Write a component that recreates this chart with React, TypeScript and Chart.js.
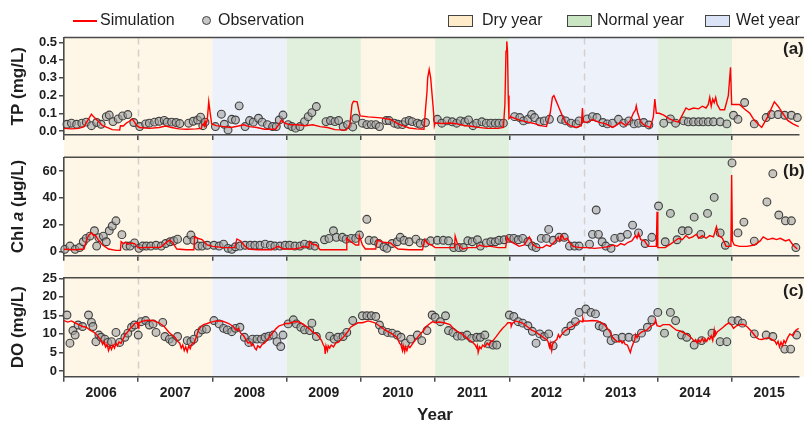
import React, { useEffect, useRef } from 'react';
import { Chart, registerables } from 'chart.js';

Chart.register(...registerables);

// ---------------- DATA ----------------
const YEARS = [2006, 2007, 2008, 2009, 2010, 2011, 2012, 2013, 2014, 2015];
const YEAR_TYPES = ['Dry', 'Dry', 'Wet', 'Normal', 'Dry', 'Normal', 'Wet', 'Wet', 'Normal', 'Dry'];
const LEGEND_TYPES = ['Dry', 'Normal', 'Wet'];
const X_MIN = 2006;
const X_MAX = 2015.901;

const TP_TICKS = [0, 0.1, 0.2, 0.3, 0.4, 0.5];
const CHL_TICKS = [0, 20, 40, 60];
const DO_TICKS = [0, 5, 10, 15, 20, 25];

// Simulation (TP, mg/L)
const simTP: number[][] = [
  [2006.0, 0.015], [2006.1, 0.012], [2006.2, 0.015], [2006.27, 0.025], [2006.32, 0.06], [2006.37, 0.095], [2006.4, 0.08], [2006.45, 0.06], [2006.52, 0.03], [2006.58, 0.02], [2006.65, 0.008], [2006.75, 0.005], [2006.76, 0.03], [2006.8, 0.028], [2006.84, 0.045], [2006.88, 0.055], [2006.92, 0.068], [2006.95, 0.05], [2006.98, 0.03],
  [2007.02, 0.02], [2007.15, 0.015], [2007.28, 0.02], [2007.37, 0.028], [2007.45, 0.02], [2007.55, 0.012], [2007.65, 0.01], [2007.78, 0.012], [2007.85, 0.015], [2007.86, 0.035], [2007.88, 0.04], [2007.89, 0.03], [2007.9, 0.055], [2007.91, 0.04], [2007.93, 0.06], [2007.95, 0.166], [2007.97, 0.1], [2007.99, 0.04],
  [2008.05, 0.03], [2008.15, 0.025], [2008.25, 0.02], [2008.35, 0.028], [2008.42, 0.035], [2008.5, 0.025], [2008.6, 0.02], [2008.7, 0.01], [2008.85, 0.01], [2008.9, 0.04], [2008.93, 0.062], [2008.97, 0.045],
  [2009.05, 0.035], [2009.15, 0.035], [2009.25, 0.03], [2009.35, 0.035], [2009.45, 0.025], [2009.55, 0.02], [2009.65, 0.008], [2009.8, 0.005], [2009.85, 0.03], [2009.88, 0.15], [2009.9, 0.168], [2009.95, 0.165], [2009.97, 0.12], [2009.99, 0.085],
  [2010.1, 0.08], [2010.27, 0.074], [2010.4, 0.065], [2010.5, 0.04], [2010.6, 0.025], [2010.65, 0.017], [2010.75, 0.012], [2010.85, 0.01], [2010.87, 0.12], [2010.89, 0.22], [2010.9, 0.3], [2010.92, 0.347], [2010.94, 0.3], [2010.96, 0.2], [2010.98, 0.1], [2010.99, 0.03],
  [2011.0, 0.045], [2011.1, 0.042], [2011.2, 0.045], [2011.3, 0.04], [2011.4, 0.03], [2011.47, 0.028], [2011.55, 0.022], [2011.7, 0.015], [2011.85, 0.015], [2011.92, 0.02], [2011.94, 0.15], [2011.955, 0.45], [2011.965, 0.506], [2011.975, 0.45], [2011.985, 0.2], [2011.995, 0.07],
  [2012.02, 0.08], [2012.08, 0.07], [2012.15, 0.06], [2012.25, 0.05], [2012.32, 0.044], [2012.42, 0.03], [2012.5, 0.025], [2012.55, 0.1], [2012.58, 0.19], [2012.6, 0.2], [2012.63, 0.17], [2012.67, 0.13], [2012.72, 0.08], [2012.76, 0.047], [2012.82, 0.03], [2012.9, 0.02], [2012.97, 0.03], [2012.985, 0.13], [2012.995, 0.05],
  [2013.05, 0.05], [2013.12, 0.065], [2013.2, 0.05], [2013.3, 0.04], [2013.39, 0.02], [2013.45, 0.035], [2013.5, 0.05], [2013.57, 0.03], [2013.63, 0.06], [2013.67, 0.1], [2013.7, 0.12], [2013.71, 0.142], [2013.73, 0.1], [2013.77, 0.05], [2013.83, 0.03], [2013.9, 0.02], [2013.94, 0.08], [2013.96, 0.18], [2013.98, 0.1],
  [2014.02, 0.1], [2014.08, 0.09], [2014.15, 0.07], [2014.22, 0.057], [2014.28, 0.05], [2014.33, 0.09], [2014.38, 0.13], [2014.42, 0.12], [2014.48, 0.13], [2014.55, 0.125], [2014.6, 0.14], [2014.65, 0.13], [2014.68, 0.15], [2014.7, 0.19], [2014.72, 0.14], [2014.74, 0.18], [2014.76, 0.16], [2014.78, 0.19], [2014.8, 0.15], [2014.84, 0.12], [2014.9, 0.12], [2014.95, 0.2], [2014.98, 0.36], [2014.995, 0.15],
  [2015.02, 0.15], [2015.1, 0.15], [2015.18, 0.12], [2015.24, 0.1], [2015.3, 0.06], [2015.4, 0.02], [2015.48, 0.08], [2015.57, 0.165], [2015.62, 0.14], [2015.7, 0.09], [2015.75, 0.06], [2015.82, 0.04], [2015.9, 0.025],
];

// Observation (TP, mg/L)
const obsTP: number[][] = [
  [2006.04, 0.038], [2006.10, 0.044], [2006.17, 0.038], [2006.24, 0.044], [2006.30, 0.05], [2006.37, 0.03], [2006.44, 0.048], [2006.50, 0.038], [2006.57, 0.081], [2006.61, 0.09], [2006.66, 0.053], [2006.73, 0.068], [2006.79, 0.085], [2006.86, 0.093], [2006.94, 0.048],
  [2007.02, 0.025], [2007.10, 0.04], [2007.15, 0.044], [2007.22, 0.05], [2007.28, 0.055], [2007.35, 0.06], [2007.39, 0.05], [2007.45, 0.05], [2007.51, 0.048], [2007.56, 0.042], [2007.68, 0.044], [2007.74, 0.055], [2007.80, 0.062], [2007.84, 0.078], [2007.87, 0.03], [2007.90, 0.05],
  [2008.04, 0.025], [2008.12, 0.095], [2008.16, 0.038], [2008.21, 0.006], [2008.26, 0.066], [2008.31, 0.062], [2008.36, 0.142], [2008.44, 0.025], [2008.50, 0.059], [2008.55, 0.05], [2008.62, 0.072], [2008.67, 0.05], [2008.74, 0.036], [2008.81, 0.025], [2008.86, 0.025], [2008.90, 0.062], [2008.95, 0.09],
  [2009.02, 0.036], [2009.07, 0.025], [2009.12, 0.016], [2009.18, 0.025], [2009.24, 0.053], [2009.29, 0.081], [2009.34, 0.104], [2009.40, 0.138], [2009.53, 0.053], [2009.59, 0.059], [2009.65, 0.053], [2009.70, 0.059], [2009.76, 0.025], [2009.82, 0.036], [2009.89, 0.023], [2009.93, 0.072],
  [2010.02, 0.044], [2010.08, 0.036], [2010.14, 0.036], [2010.20, 0.036], [2010.25, 0.025], [2010.34, 0.059], [2010.38, 0.059], [2010.45, 0.044], [2010.50, 0.038], [2010.56, 0.036], [2010.60, 0.053], [2010.65, 0.059], [2010.69, 0.053], [2010.76, 0.044], [2010.80, 0.038], [2010.87, 0.048],
  [2011.03, 0.066], [2011.09, 0.044], [2011.16, 0.057], [2011.23, 0.052], [2011.29, 0.044], [2011.34, 0.057], [2011.40, 0.052], [2011.45, 0.063], [2011.51, 0.03], [2011.56, 0.044], [2011.63, 0.052], [2011.69, 0.044], [2011.75, 0.044], [2011.81, 0.044], [2011.86, 0.044], [2011.92, 0.044],
  [2012.07, 0.081], [2012.14, 0.076], [2012.19, 0.057], [2012.25, 0.066], [2012.30, 0.093], [2012.34, 0.076], [2012.41, 0.052], [2012.47, 0.057], [2012.54, 0.066], [2012.70, 0.066], [2012.76, 0.057], [2012.83, 0.044], [2012.90, 0.04], [2012.94, 0.057],
  [2013.05, 0.068], [2013.12, 0.081], [2013.18, 0.076], [2013.26, 0.048], [2013.32, 0.04], [2013.39, 0.044], [2013.47, 0.066], [2013.54, 0.044], [2013.61, 0.057], [2013.68, 0.04], [2013.74, 0.044], [2013.81, 0.048], [2013.88, 0.034],
  [2014.08, 0.044], [2014.17, 0.068], [2014.24, 0.044], [2014.35, 0.057], [2014.41, 0.052], [2014.48, 0.052], [2014.55, 0.052], [2014.61, 0.052], [2014.68, 0.052], [2014.75, 0.052], [2014.84, 0.052], [2014.93, 0.04],
  [2015.02, 0.089], [2015.08, 0.066], [2015.17, 0.161], [2015.30, 0.04], [2015.46, 0.076], [2015.53, 0.093], [2015.62, 0.093], [2015.71, 0.089], [2015.80, 0.089], [2015.88, 0.076],
];

// Simulation (Chl a, ug/L)
const simChl: number[][] = [
  [2006.0, 1.8], [2006.15, 1.5], [2006.27, 2], [2006.3, 8], [2006.33, 12], [2006.37, 14], [2006.4, 12], [2006.42, 12.5], [2006.46, 9], [2006.52, 5], [2006.6, 2], [2006.7, 1], [2006.76, 1], [2006.77, 7.4], [2006.8, 6], [2006.83, 7], [2006.86, 5.5], [2006.9, 6.5], [2006.95, 6],
  [2007.0, 3], [2007.15, 3.2], [2007.3, 3.3], [2007.36, 6], [2007.42, 8.7], [2007.46, 7], [2007.52, 2], [2007.65, 1.5], [2007.75, 1.5], [2007.76, 11], [2007.8, 10], [2007.86, 9], [2007.93, 5],
  [2008.0, 4], [2008.15, 3], [2008.3, 3], [2008.33, 9.5], [2008.38, 8], [2008.44, 4], [2008.48, 2], [2008.6, 1.5], [2008.8, 1.5], [2008.85, 3], [2008.89, 4], [2008.95, 2],
  [2009.1, 2], [2009.2, 3], [2009.22, 4], [2009.3, 3], [2009.31, 7.4], [2009.35, 5.5], [2009.4, 5], [2009.45, 1.5], [2009.6, 1.5], [2009.8, 1.5], [2009.81, 10], [2009.85, 8], [2009.93, 5], [2009.97, 5], [2009.98, 12],
  [2010.02, 5], [2010.06, 2], [2010.2, 2], [2010.22, 8.7], [2010.3, 7], [2010.4, 6.5], [2010.45, 4], [2010.5, 2], [2010.65, 1.5], [2010.83, 1.5], [2010.86, 9], [2010.9, 6], [2010.95, 5],
  [2011.0, 3], [2011.15, 3], [2011.26, 3], [2011.27, 11.7], [2011.3, 6], [2011.37, 2], [2011.45, 3], [2011.55, 3], [2011.6, 5], [2011.65, 4], [2011.75, 4], [2011.85, 3], [2011.95, 3], [2011.97, 11],
  [2012.0, 8], [2012.1, 5], [2012.13, 4], [2012.2, 5], [2012.27, 11], [2012.32, 5], [2012.38, 3], [2012.45, 3], [2012.5, 5], [2012.55, 4], [2012.62, 8], [2012.66, 11], [2012.68, 8], [2012.71, 12.4], [2012.74, 9], [2012.78, 10], [2012.82, 6], [2012.86, 4], [2012.95, 3],
  [2013.05, 3], [2013.15, 2.5], [2013.25, 3], [2013.35, 4], [2013.4, 5], [2013.45, 4], [2013.5, 6], [2013.55, 5], [2013.6, 7], [2013.65, 8], [2013.7, 12], [2013.72, 10], [2013.74, 13.7], [2013.77, 9], [2013.82, 8], [2013.87, 4], [2013.98, 4], [2013.99, 29.7],
  [2014.0, 3], [2014.1, 3], [2014.18, 6], [2014.23, 8], [2014.28, 10], [2014.33, 9], [2014.38, 12], [2014.42, 10], [2014.47, 11], [2014.52, 13], [2014.55, 10], [2014.6, 12], [2014.65, 10], [2014.7, 12], [2014.75, 11], [2014.79, 18.6], [2014.82, 12], [2014.87, 10], [2014.92, 4], [2014.985, 4], [2014.995, 57],
  [2015.005, 8], [2015.03, 5], [2015.1, 4], [2015.2, 4], [2015.3, 5], [2015.38, 8], [2015.42, 11], [2015.48, 9], [2015.55, 10], [2015.6, 9], [2015.65, 10], [2015.72, 8], [2015.77, 9], [2015.82, 5], [2015.88, 2],
];

// Observation (Chl a, ug/L)
const obsChl: number[][] = [
  [2006.01, 1.8], [2006.08, 4.2], [2006.15, 1.8], [2006.21, 3.1], [2006.26, 7.4], [2006.30, 9.9], [2006.35, 11.6], [2006.41, 15.6], [2006.44, 4.2], [2006.47, 10.4], [2006.53, 11.6], [2006.57, 7.4], [2006.61, 15.6], [2006.65, 19.1], [2006.70, 23], [2006.78, 12.7], [2006.84, 4.2], [2006.89, 4.2], [2006.95, 6.5],
  [2007.01, 2.5], [2007.06, 4.2], [2007.11, 4.2], [2007.17, 4.2], [2007.24, 4.8], [2007.31, 4.2], [2007.37, 6.1], [2007.43, 7.4], [2007.48, 8.1], [2007.53, 9.3], [2007.66, 8.5], [2007.71, 12.4], [2007.75, 8.5], [2007.81, 4.2], [2007.86, 4.2], [2007.93, 4.8],
  [2008.02, 4.8], [2008.09, 4.2], [2008.15, 5.6], [2008.21, 2.5], [2008.26, 1.8], [2008.31, 3.7], [2008.37, 4.2], [2008.44, 4.8], [2008.51, 4.8], [2008.57, 4.8], [2008.64, 4.8], [2008.71, 5.6], [2008.78, 4.8], [2008.84, 4.2], [2008.91, 4.2], [2008.98, 4.8],
  [2009.04, 4.8], [2009.11, 4.2], [2009.18, 4.2], [2009.24, 5.6], [2009.31, 4.8], [2009.38, 4.2], [2009.51, 8.9], [2009.57, 9.9], [2009.63, 15.6], [2009.67, 10.7], [2009.75, 10.7], [2009.80, 9.3], [2009.87, 9.9], [2009.93, 9.9], [2009.98, 12.4],
  [2010.08, 24.1], [2010.11, 8.5], [2010.18, 8.1], [2010.24, 6.1], [2010.31, 3.7], [2010.35, 2.5], [2010.42, 6.1], [2010.49, 7.4], [2010.53, 10.7], [2010.58, 8.5], [2010.65, 7.4], [2010.74, 9.3], [2010.80, 6.5], [2010.87, 6.5], [2010.94, 8.1],
  [2011.03, 8.5], [2011.11, 8.5], [2011.18, 8.1], [2011.25, 3.1], [2011.32, 3.1], [2011.38, 3.1], [2011.44, 8.1], [2011.50, 7.4], [2011.57, 8.9], [2011.61, 4.2], [2011.69, 6.5], [2011.75, 7.4], [2011.81, 7.4], [2011.86, 8.5], [2011.93, 8.9],
  [2012.00, 9.9], [2012.06, 9.9], [2012.12, 8.9], [2012.18, 9.9], [2012.25, 7.4], [2012.31, 4.2], [2012.36, 3.1], [2012.43, 9.9], [2012.50, 9.9], [2012.53, 16.6], [2012.59, 8.5], [2012.67, 10.7], [2012.74, 10.7], [2012.81, 4.2], [2012.88, 4.2], [2012.94, 4.2],
  [2013.08, 5.6], [2013.12, 12.9], [2013.17, 31], [2013.20, 12.9], [2013.25, 7.4], [2013.30, 4.2], [2013.37, 2.5], [2013.42, 9.9], [2013.50, 10.7], [2013.59, 12.9], [2013.66, 19.8], [2013.74, 14], [2013.83, 6.1], [2013.92, 10.7], [2014.01, 34],
  [2014.10, 7.4], [2014.17, 28.5], [2014.26, 8.9], [2014.33, 15.6], [2014.41, 15.6], [2014.49, 25.7], [2014.58, 12.9], [2014.67, 28.5], [2014.76, 40.4], [2014.84, 14], [2014.91, 4.8], [2015.00, 66],
  [2015.08, 14], [2015.16, 22], [2015.30, 7.9], [2015.47, 37], [2015.55, 58], [2015.63, 27.3], [2015.72, 23], [2015.80, 23], [2015.86, 3.1],
];

// Simulation (DO, mg/L)
const simDO: number[][] = [
  [2006.0, 13.6], [2006.05, 13.2], [2006.1, 13.5], [2006.15, 13], [2006.2, 12.5], [2006.25, 12], [2006.3, 11.8], [2006.35, 11], [2006.4, 10.5], [2006.44, 9.8], [2006.48, 8.8], [2006.5, 8.2], [2006.52, 7.2], [2006.54, 8], [2006.56, 6.5], [2006.58, 7.2], [2006.6, 5.5], [2006.62, 6.8], [2006.64, 5.8], [2006.66, 7], [2006.68, 6.2], [2006.7, 7.5], [2006.72, 6.8], [2006.74, 7.8], [2006.77, 7.5], [2006.8, 8.8], [2006.83, 10], [2006.86, 10.6], [2006.89, 11.5], [2006.92, 12], [2006.96, 12.9], [2006.99, 13],
  [2007.0, 11.6], [2007.01, 13], [2007.05, 13.4], [2007.12, 13.7], [2007.2, 13.6], [2007.28, 13], [2007.35, 12], [2007.41, 10.5], [2007.45, 9.8], [2007.5, 9], [2007.53, 8], [2007.56, 7.5], [2007.58, 6.2], [2007.6, 7], [2007.62, 5.5], [2007.64, 6.5], [2007.66, 5.2], [2007.68, 6.8], [2007.7, 6], [2007.72, 7.2], [2007.75, 7.5], [2007.78, 9], [2007.81, 11], [2007.84, 11.8], [2007.88, 12.5], [2007.93, 12.8], [2007.97, 13.1],
  [2008.05, 13.5], [2008.13, 13.5], [2008.22, 12.8], [2008.28, 12], [2008.32, 11], [2008.35, 11.5], [2008.38, 10.2], [2008.42, 9.5], [2008.46, 8.2], [2008.48, 7.5], [2008.51, 7.8], [2008.53, 6.8], [2008.55, 7.2], [2008.57, 6.2], [2008.59, 5.7], [2008.61, 6.8], [2008.64, 6.3], [2008.67, 7.2], [2008.7, 7.5], [2008.73, 8.2], [2008.78, 9.5], [2008.82, 10.5], [2008.86, 11.5], [2008.9, 12.2], [2008.95, 12.5], [2008.98, 12.8],
  [2009.03, 12.8], [2009.1, 13.3], [2009.17, 13.2], [2009.23, 12.5], [2009.3, 11.5], [2009.35, 10.5], [2009.4, 10], [2009.43, 9.4], [2009.47, 8.2], [2009.49, 7.2], [2009.51, 6.5], [2009.52, 4.6], [2009.53, 6.8], [2009.55, 5.5], [2009.56, 6.8], [2009.58, 6.2], [2009.6, 7], [2009.63, 6.5], [2009.66, 7.5], [2009.7, 7.8], [2009.73, 8.5], [2009.76, 9], [2009.79, 9.8], [2009.82, 10.5], [2009.86, 11.8], [2009.9, 12.3], [2009.96, 13],
  [2010.02, 13], [2010.1, 13.5], [2010.19, 13], [2010.26, 12], [2010.33, 11], [2010.42, 10], [2010.49, 9], [2010.52, 7.5], [2010.54, 7], [2010.56, 5.5], [2010.57, 6.8], [2010.59, 5.2], [2010.6, 6.5], [2010.62, 5.5], [2010.64, 6.8], [2010.66, 6.3], [2010.69, 7.2], [2010.72, 8], [2010.76, 9], [2010.8, 10], [2010.84, 10.8], [2010.88, 12], [2010.93, 12.8], [2010.97, 13.3],
  [2011.0, 13], [2011.05, 13.2], [2011.12, 13], [2011.2, 12.5], [2011.27, 11], [2011.36, 10], [2011.42, 9], [2011.45, 8.5], [2011.5, 7.8], [2011.54, 7], [2011.56, 6.2], [2011.57, 6.8], [2011.58, 5], [2011.6, 6.5], [2011.62, 6], [2011.64, 7], [2011.67, 6.5], [2011.7, 7.5], [2011.73, 7], [2011.75, 8], [2011.78, 8.2], [2011.82, 9.2], [2011.85, 10], [2011.88, 10.8], [2011.91, 11.5], [2011.95, 12.3], [2011.98, 13],
  [2012.02, 13], [2012.025, 12], [2012.04, 12.8], [2012.08, 13.5], [2012.17, 13], [2012.24, 12], [2012.3, 11], [2012.36, 10.5], [2012.39, 10], [2012.43, 9.5], [2012.46, 9], [2012.5, 8.5], [2012.52, 8], [2012.54, 6.5], [2012.55, 7.5], [2012.57, 5.5], [2012.58, 7.2], [2012.61, 8], [2012.64, 8.5], [2012.66, 9.8], [2012.68, 9], [2012.71, 10], [2012.75, 10.8], [2012.8, 11.5], [2012.85, 12], [2012.89, 12.5], [2012.93, 13.2], [2012.96, 13.5], [2012.98, 13.3], [2012.99, 14.2],
  [2013.0, 13.5], [2013.05, 13.5], [2013.12, 13.6], [2013.19, 13.5], [2013.24, 13], [2013.28, 12.5], [2013.34, 11], [2013.37, 10], [2013.39, 9], [2013.42, 8.5], [2013.45, 8], [2013.48, 7.8], [2013.5, 8.2], [2013.52, 7.5], [2013.54, 8], [2013.56, 7.2], [2013.59, 7], [2013.61, 6], [2013.63, 5], [2013.65, 6.5], [2013.67, 7.5], [2013.69, 8.5], [2013.7, 9.8], [2013.72, 9], [2013.75, 10], [2013.78, 10.5], [2013.82, 10.8], [2013.85, 11], [2013.9, 12], [2013.94, 12.5], [2013.96, 12.8], [2013.97, 13.8], [2013.99, 12.2],
  [2014.03, 12], [2014.07, 12.5], [2014.16, 12.5], [2014.2, 11.8], [2014.25, 11], [2014.3, 10.8], [2014.33, 10.5], [2014.38, 10], [2014.42, 9.5], [2014.46, 8.8], [2014.49, 8], [2014.51, 8.5], [2014.53, 7.6], [2014.55, 8.4], [2014.57, 7.8], [2014.6, 8.8], [2014.62, 7.9], [2014.64, 8.6], [2014.66, 8], [2014.68, 9], [2014.7, 8.5], [2014.72, 9.5], [2014.74, 8.2], [2014.76, 11], [2014.77, 9.5], [2014.8, 10.5], [2014.83, 11], [2014.88, 11.8], [2014.92, 12.5], [2014.96, 13], [2014.99, 12.5],
  [2015.02, 11.5], [2015.06, 12.2], [2015.11, 12.5], [2015.15, 12.6], [2015.2, 12], [2015.27, 10.5], [2015.33, 9], [2015.36, 8.6], [2015.4, 8.5], [2015.45, 8.8], [2015.49, 9], [2015.53, 8.6], [2015.58, 8], [2015.6, 7.2], [2015.62, 8], [2015.64, 6.5], [2015.66, 7.8], [2015.68, 6.8], [2015.7, 8.2], [2015.72, 7.5], [2015.75, 9], [2015.78, 10], [2015.82, 9.5], [2015.86, 11], [2015.9, 11.5],
];

// Observation (DO, mg/L)
const obsDO: number[][] = [
  [2006.04, 15.1], [2006.08, 7.5], [2006.12, 10.9], [2006.15, 9.7], [2006.19, 12.4], [2006.25, 12], [2006.33, 15.1], [2006.37, 13.1], [2006.39, 12], [2006.43, 7.9], [2006.47, 9.7], [2006.5, 9.1], [2006.55, 8.6], [2006.59, 7.7], [2006.64, 7.9], [2006.70, 10.4], [2006.75, 7.7], [2006.82, 9.1], [2006.86, 10.2], [2006.91, 11.8], [2006.95, 12.4],
  [2007.0, 9.7], [2007.04, 13.3], [2007.10, 13.6], [2007.15, 12.4], [2007.20, 12.7], [2007.24, 10.4], [2007.33, 13.1], [2007.36, 9.3], [2007.42, 8.6], [2007.46, 7.9], [2007.53, 9.3], [2007.66, 8.2], [2007.71, 7.9], [2007.75, 8.6], [2007.81, 10.2], [2007.86, 11.1], [2007.92, 11.3],
  [2008.02, 13.6], [2008.09, 12.7], [2008.15, 11.5], [2008.20, 11.1], [2008.26, 10.6], [2008.31, 11.5], [2008.37, 11.8], [2008.43, 9.1], [2008.49, 7.7], [2008.54, 8.6], [2008.60, 8.6], [2008.66, 8.6], [2008.71, 9.1], [2008.76, 9.4], [2008.82, 9.7], [2008.87, 7.9], [2008.92, 6.6], [2008.95, 9.7],
  [2009.02, 12.7], [2009.09, 13.8], [2009.13, 12.7], [2009.19, 11.8], [2009.24, 11.1], [2009.31, 10.9], [2009.34, 12.9], [2009.40, 9.3], [2009.58, 9.4], [2009.64, 8.6], [2009.69, 9.1], [2009.76, 9.3], [2009.81, 10.4], [2009.89, 13.6],
  [2010.02, 14.9], [2010.08, 14.9], [2010.14, 14.9], [2010.20, 14.7], [2010.25, 12.4], [2010.29, 10.9], [2010.36, 10.4], [2010.42, 10.2], [2010.49, 9.7], [2010.54, 9.1], [2010.60, 7.5], [2010.67, 8.6], [2010.76, 9.7], [2010.82, 8.2], [2010.89, 10.9], [2010.96, 15.1],
  [2011.0, 14.5], [2011.07, 13.3], [2011.14, 14.9], [2011.18, 10.9], [2011.24, 10.4], [2011.30, 9.4], [2011.36, 9.4], [2011.43, 9.7], [2011.49, 8.8], [2011.56, 9.1], [2011.61, 9.1], [2011.67, 9.7], [2011.72, 7.3], [2011.78, 7.0], [2011.83, 7.0],
  [2012.0, 15.1], [2012.06, 14.7], [2012.12, 13.3], [2012.18, 12.9], [2012.25, 12.2], [2012.31, 10.7], [2012.36, 7.5], [2012.41, 10.0], [2012.47, 9.3], [2012.53, 10.0], [2012.59, 6.8], [2012.76, 10.7], [2012.83, 12.2], [2012.89, 13.3], [2012.94, 15.8],
  [2013.03, 16.7], [2013.10, 15.8], [2013.16, 15.4], [2013.21, 12.2], [2013.26, 11.8], [2013.32, 10.2], [2013.37, 8.2], [2013.43, 8.8], [2013.52, 9.1], [2013.61, 9.1], [2013.70, 8.8], [2013.78, 10.2], [2013.86, 11.8], [2013.92, 13.8], [2014.0, 15.8],
  [2014.09, 10.2], [2014.17, 15.8], [2014.24, 13.6], [2014.32, 9.7], [2014.39, 9.1], [2014.49, 7.0], [2014.59, 8.2], [2014.73, 10.2], [2014.84, 7.9], [2014.93, 7.9],
  [2015.0, 13.5], [2015.08, 13.6], [2015.14, 12.9], [2015.30, 10.0], [2015.46, 9.7], [2015.55, 9.3], [2015.71, 5.9], [2015.79, 5.9], [2015.87, 9.7],
];

// ---------------- STYLE ----------------
const FONT = '"Liberation Sans", Arial, Helvetica, sans-serif';
const AXIS = '#4a4a4a';
const TEXT = '#1e1e1e';
const OBS_FILL = 'rgba(165,165,165,0.62)';
const OBS_LINE = '#404040';
const BAND_FILL: Record<string, string> = { Dry: '#fef6e6', Normal: '#e1f0dd', Wet: '#edf1fa' };
const LEGEND_FILL: Record<string, string> = { Dry: '#fdebc9', Normal: '#c9e5c1', Wet: '#dbe4f6' };
const W = 804;
const H = 422;

type Panel = {
  sim: number[][];
  obs: number[][];
  min: number;
  max: number;
  ticks: number[];
  dec: number;
  top: number;
  axis: number;
  xh: number;
  labels: boolean;
  title: { t: string; italic?: boolean }[];
  tag: string;
  tagY: number;
};

const PANELS: Panel[] = [
  { sim: simTP, obs: obsTP, min: -0.0226, max: 0.528, ticks: TP_TICKS, dec: 1, top: 37.5, axis: 135, xh: 10, labels: false, title: [{ t: 'TP (mg/L)' }], tag: '(a)', tagY: 49 },
  { sim: simChl, obs: obsChl, min: -2.97, max: 70.2, ticks: CHL_TICKS, dec: 0, top: 157.3, axis: 255.7, xh: 10, labels: false, title: [{ t: 'Chl ' }, { t: 'a', italic: true }, { t: ' (\u03bcg/L)' }], tag: '(b)', tagY: 171 },
  { sim: simDO, obs: obsDO, min: -1.54, max: 25.16, ticks: DO_TICKS, dec: 0, top: 277.7, axis: 376.7, xh: 30, labels: true, title: [{ t: 'DO (mg/L)' }], tag: '(c)', tagY: 291 },
];

const X_TICKS: number[] = [];
YEARS.forEach((y) => {
  X_TICKS.push(y);
  X_TICKS.push(y + 0.5);
});

function makeDecor(p: Panel, index: number) {
  return {
    id: 'decor' + index,
    beforeDraw(chart: any) {
      if (index !== 0) return;
      const ctx = chart.ctx;
      const xs = chart.scales.x;
      const top = PANELS[0].top;
      const bottom = PANELS[PANELS.length - 1].axis;
      ctx.save();
      YEARS.forEach((y, i) => {
        const x0 = xs.getPixelForValue(y);
        const x1 = Math.min(W, xs.getPixelForValue(y + 1));
        ctx.fillStyle = BAND_FILL[YEAR_TYPES[i]];
        ctx.fillRect(x0, top, x1 - x0, bottom - top);
      });
      ctx.strokeStyle = 'rgba(205,205,205,0.9)';
      ctx.lineWidth = 1.5;
      ctx.setLineDash([7, 5]);
      YEARS.forEach((y, i) => {
        if (i > 0 && YEAR_TYPES[i] === YEAR_TYPES[i - 1]) {
          const x = Math.round(xs.getPixelForValue(y)) + 0.5;
          ctx.beginPath();
          ctx.moveTo(x, top);
          ctx.lineTo(x, bottom);
          ctx.stroke();
        }
      });
      ctx.restore();
    },
    afterDraw(chart: any) {
      const ctx = chart.ctx;
      const a = chart.chartArea;
      ctx.save();
      // top frame line
      ctx.strokeStyle = AXIS;
      ctx.lineWidth = 1.6;
      ctx.beginPath();
      ctx.moveTo(a.left, a.top);
      ctx.lineTo(W, a.top);
      ctx.stroke();
      // y-axis title (rotated, mixed fonts)
      const cy = (a.top + a.bottom) / 2;
      ctx.translate(18, cy);
      ctx.rotate(-Math.PI / 2);
      const fonts = p.title.map((s) => (s.italic ? 'italic bold 17px ' : 'bold 17px ') + FONT);
      let total = 0;
      const widths = p.title.map((s, i) => {
        ctx.font = fonts[i];
        const w = ctx.measureText(s.t).width;
        total += w;
        return w;
      });
      let x = -total / 2;
      ctx.fillStyle = TEXT;
      ctx.textBaseline = 'middle';
      ctx.textAlign = 'left';
      p.title.forEach((s, i) => {
        ctx.font = fonts[i];
        ctx.fillText(s.t, x, 0);
        x += widths[i];
      });
      ctx.restore();
      // panel tag
      ctx.save();
      ctx.fillStyle = TEXT;
      ctx.font = 'bold 17px ' + FONT;
      ctx.textBaseline = 'middle';
      ctx.textAlign = 'left';
      ctx.fillText(p.tag, 783, p.tagY);
      if (p.labels) {
        ctx.textAlign = 'center';
        ctx.font = 'bold 17px ' + FONT;
        ctx.fillText('Year', 435, 415);
      }
      ctx.restore();
    },
  };
}

function buildConfig(p: Panel, index: number): any {
  return {
    type: 'scatter',
    data: {
      datasets: [
        {
          type: 'line',
          label: 'Simulation',
          data: p.sim.map(([x, y]) => ({ x, y })),
          borderColor: '#ff0000',
          borderWidth: 1.4,
          pointRadius: 0,
          tension: 0,
          fill: false,
          order: 0,
        },
        {
          type: 'scatter',
          label: 'Observation',
          data: p.obs.map(([x, y]) => ({ x, y })),
          pointRadius: 3.9,
          pointBackgroundColor: OBS_FILL,
          pointBorderColor: OBS_LINE,
          pointBorderWidth: 1.1,
          clip: false,
          order: 1,
        },
      ],
    },
    options: {
      responsive: false,
      animation: false,
      devicePixelRatio: 1,
      events: [],
      layout: { padding: { top: p.top, bottom: H - p.axis - p.xh, left: 0, right: 0 } },
      plugins: { legend: { display: false }, tooltip: { enabled: false } },
      scales: {
        x: {
          type: 'linear',
          min: X_MIN,
          max: X_MAX,
          afterBuildTicks: (s: any) => {
            s.ticks = X_TICKS.map((v) => ({ value: v }));
          },
          afterFit: (s: any) => {
            s.height = p.xh;
          },
          grid: {
            display: true,
            drawOnChartArea: false,
            drawTicks: true,
            tickLength: 5,
            lineWidth: 1.5,
            tickColor: (c: any) => (c.tick && Number.isInteger(c.tick.value) ? AXIS : 'rgba(0,0,0,0)'),
          },
          border: { display: true, color: AXIS, width: 1.6 },
          ticks: {
            autoSkip: false,
            maxRotation: 0,
            minRotation: 0,
            padding: 3,
            color: TEXT,
            font: { family: FONT, size: 14, weight: 'bold' },
            callback: (v: number) => (p.labels && !Number.isInteger(v) ? String(Math.floor(v)) : ''),
          },
        },
        y: {
          type: 'linear',
          min: p.min,
          max: p.max,
          afterBuildTicks: (s: any) => {
            s.ticks = p.ticks.map((v) => ({ value: v }));
          },
          afterFit: (s: any) => {
            s.width = 64;
          },
          grid: {
            display: true,
            drawOnChartArea: false,
            drawTicks: true,
            tickLength: 5,
            lineWidth: 1.5,
            color: AXIS,
            tickColor: AXIS,
          },
          border: { display: true, color: AXIS, width: 1.6 },
          ticks: {
            padding: 2,
            color: TEXT,
            font: { family: FONT, size: 13, weight: 'bold' },
            callback: (v: number) => Number(v).toFixed(p.dec),
          },
        },
      },
    },
    plugins: [makeDecor(p, index)],
  };
}

const legendText: React.CSSProperties = {
  position: 'absolute',
  top: 11,
  fontSize: 16,
  lineHeight: '18px',
  color: TEXT,
  fontFamily: FONT,
  whiteSpace: 'nowrap',
};

export default function App() {
  const r0 = useRef<HTMLCanvasElement>(null);
  const r1 = useRef<HTMLCanvasElement>(null);
  const r2 = useRef<HTMLCanvasElement>(null);
  const refs = [r0, r1, r2];

  useEffect(() => {
    const charts = PANELS.map((p, i) => new Chart(refs[i].current as HTMLCanvasElement, buildConfig(p, i)));
    return () => charts.forEach((c) => c.destroy());
  }, []);

  const legendBoxX = [448, 567, 705];
  const legendTextX = [482, 597, 736];

  return (
    <div style={{ position: 'fixed', left: 0, top: 0, width: W, height: H, overflow: 'hidden', background: '#fff' }}>
      {PANELS.map((_, i) => (
        <canvas key={i} ref={refs[i]} width={W} height={H} style={{ position: 'absolute', left: 0, top: 0, width: W, height: H }} />
      ))}
      <div style={{ position: 'absolute', left: 73, top: 19.5, width: 24, height: 2, background: '#ff0000' }} />
      <div style={{ ...legendText, left: 100 }}>Simulation</div>
      <div
        style={{
          position: 'absolute',
          left: 202,
          top: 16,
          width: 9,
          height: 9,
          boxSizing: 'border-box',
          borderRadius: '50%',
          background: OBS_FILL,
          border: '1.1px solid ' + OBS_LINE,
        }}
      />
      <div style={{ ...legendText, left: 218 }}>Observation</div>
      {LEGEND_TYPES.map((t, i) => (
        <React.Fragment key={t}>
          <div
            style={{
              position: 'absolute',
              left: legendBoxX[i],
              top: 14.5,
              width: 25,
              height: 12.5,
              boxSizing: 'border-box',
              background: LEGEND_FILL[t],
              border: '1.5px solid #444',
            }}
          />
          <div style={{ ...legendText, left: legendTextX[i] }}>{t + ' year'}</div>
        </React.Fragment>
      ))}
    </div>
  );
}
